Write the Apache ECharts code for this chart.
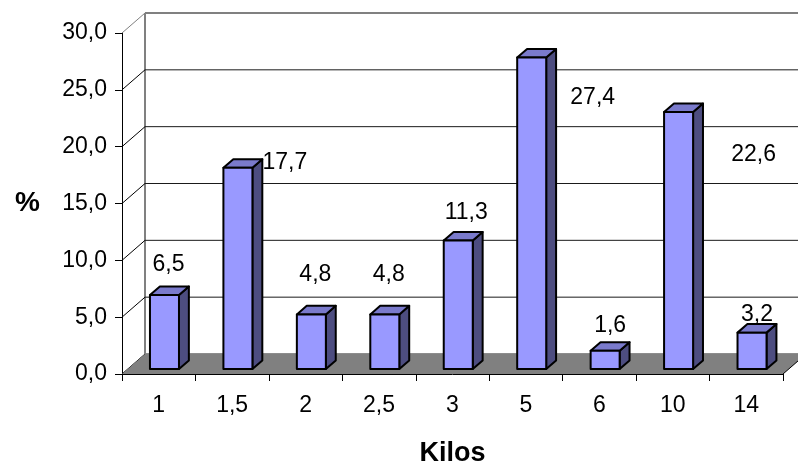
<!DOCTYPE html>
<html>
<head>
<meta charset="utf-8">
<script src="https://cdn.jsdelivr.net/npm/echarts@6/dist/echarts.min.js"></script>
<style>
  html, body { margin: 0; padding: 0; background: #fff; }
  #chart { width: 798px; height: 465px; }
</style>
</head>
<body>
<div id="chart"></div>
<script>
// Weight categories (kg) and share of each one (%)
const categories = ['1', '1,5', '2', '2,5', '3', '5', '6', '10', '14'];
const percentages = [6.5, 17.7, 4.8, 4.8, 11.3, 27.4, 1.6, 22.6, 3.2];
const yTicks = [0, 5, 10, 15, 20, 25, 30];

// Value labels are nudged (px) from the centre of each bar's front top edge
const labelNudge = [[4, -30], [47, -5], [4, -40], [4, -40], [8, -28], [61, 40], [5, -25], [75, 43], [5, -18]];

const FONT = 'Arial, "Liberation Sans", sans-serif';
const WALL_DX = 23, WALL_DY = -20;      // depth of the 3D box
const BAR_FRONT = 0.25, BAR_DEPTH = 0.43; // bar position / thickness inside the depth
const BAR_WIDTH = 0.395;                 // share of the category band
const fmt = v => v.toFixed(1).replace('.', ',');

const chart = echarts.init(document.getElementById('chart'));

// Back wall gridlines and left-side diagonals
function renderWall(params, api) {
  const cs = params.coordSys;
  const v = api.value(1);
  const y = api.coord([0, v])[1];
  const isTop = v === yTicks[yTicks.length - 1];
  const stroke = isTop ? '#808080' : '#1a1a1a';
  const lw = isTop ? 2 : 1;
  const children = [
    { type: 'line', shape: { x1: cs.x, y1: y, x2: cs.x + WALL_DX, y2: y + WALL_DY },
      style: { stroke: isTop ? '#808080' : '#000', lineWidth: 1 } },
    { type: 'line', shape: { x1: cs.x + WALL_DX, y1: y + WALL_DY, x2: cs.x + cs.width + WALL_DX + 10, y2: y + WALL_DY },
      style: { stroke: stroke, lineWidth: lw } }
  ];
  if (v === 0) {
    children.push({ type: 'line',
      shape: { x1: cs.x + WALL_DX, y1: y + WALL_DY, x2: cs.x + WALL_DX, y2: cs.y + WALL_DY },
      style: { stroke: '#808080', lineWidth: 2 } });
  }
  return { type: 'group', children };
}

// Grey floor of the 3D box
function renderFloor(params, api) {
  const cs = params.coordSys;
  const y = api.coord([0, 0])[1];
  const x0 = cs.x, x1 = cs.x + cs.width;
  return {
    type: 'group',
    children: [
      { type: 'polygon',
        shape: { points: [[x0, y], [x0 + WALL_DX, y + WALL_DY], [x1 + WALL_DX, y + WALL_DY], [x1, y]] },
        style: { fill: '#808080', stroke: null } },
      { type: 'line', shape: { x1: x1, y1: y, x2: x1 + WALL_DX, y2: y + WALL_DY },
        style: { stroke: '#000', lineWidth: 1 } }
    ]
  };
}

// 3D bars: front, top and side faces plus the value label
function renderBar(params, api) {
  const i = api.value(0), v = api.value(1);
  const base = api.coord([i, 0]);
  const tip = api.coord([i, v]);
  const band = api.size([1, 0])[0];
  const w = band * BAR_WIDTH;
  const ox = WALL_DX * BAR_FRONT, oy = WALL_DY * BAR_FRONT;
  const bx = WALL_DX * BAR_DEPTH, by = WALL_DY * BAR_DEPTH;
  const cx = base[0] + ox;
  const L = cx - w / 2, R = cx + w / 2;
  const yb = base[1] + oy, yt = tip[1] + oy;
  const edge = { stroke: '#000', lineWidth: 2, lineJoin: 'round' };
  const nudge = labelNudge[params.dataIndex];
  return {
    type: 'group',
    children: [
      { type: 'polygon', shape: { points: [[R, yt], [R + bx, yt + by], [R + bx, yb + by], [R, yb]] },
        style: Object.assign({ fill: '#4D4D80' }, edge) },
      { type: 'polygon', shape: { points: [[L, yt], [L + bx, yt + by], [R + bx, yt + by], [R, yt]] },
        style: Object.assign({ fill: '#7A7ACC' }, edge) },
      { type: 'rect', shape: { x: L, y: yt, width: w, height: yb - yt },
        style: Object.assign({ fill: '#9999FF' }, edge) },
      { type: 'text', x: cx + nudge[0], y: yt + nudge[1],
        style: { text: fmt(v), align: 'center', verticalAlign: 'middle',
                 textAlign: 'center', textVerticalAlign: 'middle',
                 font: '23px ' + FONT, fill: '#000' } }
    ]
  };
}

chart.setOption({
  animation: false,
  backgroundColor: '#fff',
  grid: { left: 122, top: 33, width: 661, height: 341, containLabel: false, outerBoundsMode: 'none' },
  xAxis: {
    type: 'category',
    data: categories,
    axisLine: { lineStyle: { color: '#000', width: 1 } },
    axisTick: { show: true, length: 7, lineStyle: { color: '#000' } },
    axisLabel: { color: '#000', fontSize: 23, fontFamily: FONT, margin: 20 },
    name: 'Kilos',
    nameLocation: 'middle',
    nameGap: 66,
    nameTextStyle: { color: '#000', fontSize: 27, fontWeight: 'bold', fontFamily: FONT }
  },
  yAxis: {
    type: 'value',
    min: 0, max: 30, interval: 5,
    axisLine: { show: true, lineStyle: { color: '#000', width: 1 } },
    axisTick: { show: true, length: 7, lineStyle: { color: '#000' } },
    axisLabel: { color: '#000', fontSize: 23, fontFamily: FONT, margin: 15, formatter: fmt },
    splitLine: { show: false },
    name: '%',
    nameLocation: 'middle',
    nameRotate: 0,
    nameGap: 82,
    nameTextStyle: { color: '#000', fontSize: 28, fontWeight: 'bold', fontFamily: FONT, padding: [16, 0, 0, 0] }
  },
  series: [
    { type: 'custom', name: 'wall', renderItem: renderWall, clip: false, z: 1,
      data: yTicks.map(t => [0, t]), silent: true },
    { type: 'custom', name: 'floor', renderItem: renderFloor, clip: false, z: 2,
      data: [[0, 0]], silent: true },
    { type: 'custom', name: 'bars', renderItem: renderBar, clip: false, z: 3,
      data: percentages.map((v, i) => [i, v]) }
  ]
});
</script>
</body>
</html>
